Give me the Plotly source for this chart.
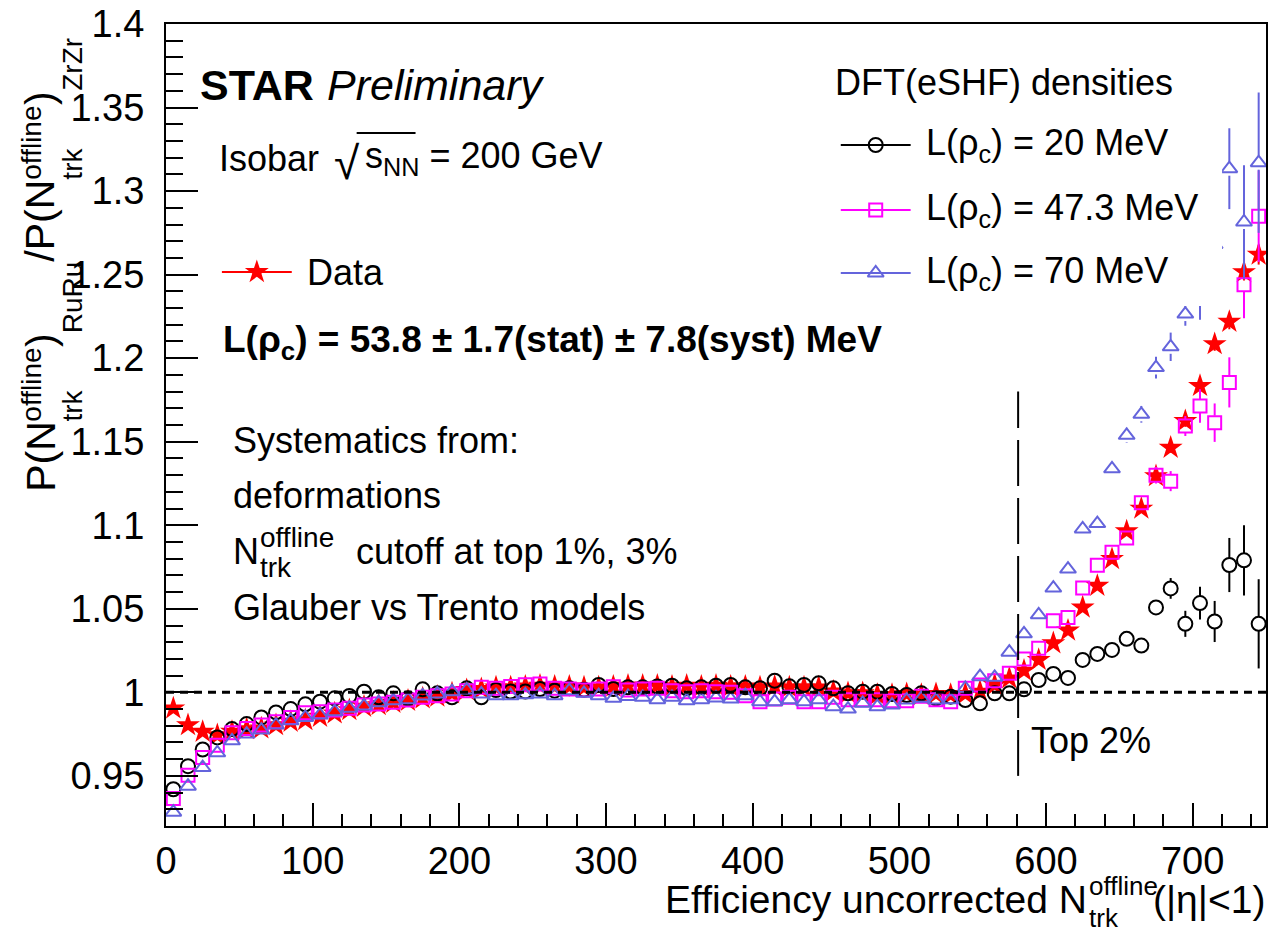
import plotly.graph_objects as go

# ---------------------------------------------------------------- data
n_trk = [5, 15, 25, 35, 45, 55, 65, 75, 85, 95, 105, 115, 125, 135, 145, 155, 165, 175,
         185, 195, 205, 215, 225, 235, 245, 255, 265, 275, 285, 295, 305, 315, 325, 335,
         345, 355, 365, 375, 385, 395, 405, 415, 425, 435, 445, 455, 465, 475, 485, 495,
         505, 515, 525, 535, 545, 555, 565, 575, 585, 595, 605, 615, 625, 635, 645, 655,
         665, 675, 685, 695, 705, 715, 725, 735, 745]

ratio_data = [0.9904, 0.9804, 0.9764, 0.9744, 0.9764, 0.978, 0.9784, 0.9804, 0.9824, 0.9834,
              0.9854, 0.9874, 0.9894, 0.9914, 0.9924, 0.9938, 0.995, 0.9964, 0.9974, 0.9994,
              1.0014, 1.002, 1.003, 1.003, 1.0035, 1.004, 1.0035, 1.0035, 1.003, 1.003,
              1.0035, 1.004, 1.004, 1.004, 1.0035, 1.004, 1.0035, 1.004, 1.0035, 1.0035,
              1.003, 1.0035, 1.003, 1.003, 1.003, 1.0005, 0.9995, 0.9995, 0.9985, 0.9985,
              0.999, 0.9985, 0.999, 0.9985, 0.999, 1.0004, 1.0044, 1.0084, 1.013, 1.0194,
              1.0294, 1.037, 1.0508, 1.0638, 1.0798, 1.0964, 1.110, 1.1294, 1.1464, 1.1624,
              1.1834, 1.2084, 1.2218, 1.2515, 1.262]
err_data = [0.001] * 55 + [0.0015, 0.0015, 0.0015, 0.0015, 0.0015, 0.0015, 0.002, 0.002, 0.002,
                           0.002, 0.002, 0.0025, 0.003, 0.003, 0.0035, 0.004, 0.004, 0.0045,
                           0.005, 0.006]

ratio_L20 = [0.942, 0.9558, 0.9658, 0.973, 0.978, 0.981, 0.985, 0.988, 0.990, 0.9928,
             0.9944, 0.9964, 0.9978, 1.0004, 0.997, 0.9994, 0.9964, 1.0018, 0.9994, 0.997,
             1.0024, 0.997, 1.0014, 1.0005, 1.0005, 1.002, 1.001, 1.0025, 1.0015, 1.0044,
             1.002, 1.003, 1.003, 1.0035, 1.004, 1.0024, 1.003, 1.004, 1.0044, 1.003,
             1.0024, 1.007, 1.0036, 1.0044, 1.0054, 1.0024, 0.9994, 1.0004, 1.0004, 0.999,
             0.9984, 0.9994, 0.9964, 0.9974, 0.9954, 0.9934, 0.9994, 0.9994, 1.0018, 1.0074,
             1.011, 1.0086, 1.0194, 1.023, 1.0254, 1.032, 1.028, 1.0508, 1.0622, 1.041,
             1.0534, 1.0424, 1.0762, 1.079, 1.041]
err_L20 = [0.001] * 58 + [0.0015, 0.0015, 0.0015, 0.002, 0.002, 0.002, 0.0025, 0.003, 0.003,
                          0.004, 0.0062, 0.0078, 0.0098, 0.0123, 0.0162, 0.021, 0.0267]

ratio_L47 = [0.9364, 0.9504, 0.961, 0.9684, 0.9758, 0.9784, 0.9804, 0.9824, 0.985, 0.9878,
             0.9884, 0.9894, 0.9904, 0.9924, 0.993, 0.994, 0.9954, 0.997, 0.998, 0.999,
             1.001, 1.003, 1.0025, 1.0035, 1.0045, 1.005, 1.0024, 1.002, 1.0014, 1.002,
             1.0034, 1.0014, 1.002, 1.0024, 1.001, 1.0004, 1.001, 1.0004, 1.0, 0.998,
             0.9944, 0.996, 0.997, 0.9944, 0.9944, 0.997, 0.9956, 0.9956, 0.9956, 0.995,
             0.995, 0.9976, 0.9956, 0.9944, 1.0024, 1.0044, 1.007, 1.0114, 1.020, 1.0264,
             1.0428, 1.0448, 1.0624, 1.076, 1.0838, 1.0924, 1.1134, 1.130, 1.1264, 1.1594,
             1.1714, 1.1614, 1.1855, 1.2439, 1.285]
err_L47 = [0.001] * 58 + [0.0015, 0.0015, 0.002, 0.002, 0.002, 0.0025, 0.003, 0.004, 0.004,
                          0.005, 0.006, 0.006, 0.010, 0.0115, 0.015, 0.020, 0.0274, 0.038]

ratio_L70 = [0.9283, 0.9438, 0.955, 0.9638, 0.971, 0.975, 0.9774, 0.9804, 0.983, 0.985,
             0.9864, 0.9884, 0.9904, 0.9918, 0.9938, 0.995, 0.9956, 0.9978, 0.999, 1.0004,
             1.0014, 0.999, 0.998, 0.998, 0.9985, 0.999, 0.998, 1.001, 0.9994, 0.998,
             0.9964, 0.9975, 0.997, 0.9956, 0.997, 0.995, 0.9956, 0.9966, 0.996, 0.998,
             0.9944, 0.9944, 0.9956, 0.9944, 0.9956, 0.9914, 0.990, 0.9934, 0.9914, 0.9924,
             0.9954, 0.9964, 0.9954, 0.9956, 1.0024, 1.0094, 1.009, 1.024, 1.035, 1.0464,
             1.0624, 1.0738, 1.0978, 1.101, 1.1338, 1.1538, 1.1664, 1.1944, 1.2068, 1.2264,
             1.245, 1.268, 1.3134, 1.2815, 1.317]
err_L70 = [0.001] * 58 + [0.0015, 0.0015, 0.002, 0.002, 0.002, 0.0025, 0.004, 0.0045, 0.005,
                          0.0065, 0.0085, 0.007, 0.022, 0.030, 0.0242, 0.034, 0.042]

x_ticks = [0, 100, 200, 300, 400, 500, 600, 700]
y_ticks = [0.95, 1.0, 1.05, 1.1, 1.15, 1.2, 1.25, 1.3, 1.35, 1.4]
y_tick_text = ["0.95", "1", "1.05", "1.1", "1.15", "1.2", "1.25", "1.3", "1.35", "1.4"]

X_RANGE = [0, 750]
Y_RANGE = [0.92, 1.4]
TOP_CUT = 581          # top 2% boundary in N_trk
TOP_CUT_SPAN = [0.95, 1.18]

# ---------------------------------------------------------------- layout helpers
W, H = 1271, 934
L, R, T, B = 166, 1268, 24, 826          # plot frame in page pixels
FONT = "Liberation Sans, Arial, Helvetica, sans-serif"
BLACK, RED, MAGENTA, VIOLET = "#000000", "#ff0000", "#ff00ff", "#6464dc"

ARIAL_W = {'P': 667, '(': 333, ')': 333, 'N': 722, '/': 278, 'o': 556, 'f': 278, 'l': 222,
           'i': 222, 'n': 556, 'e': 556, 't': 278, 'r': 333, 'k': 500, 'R': 722, 'u': 556,
           'Z': 611, ' ': 278}


def text_width(s, size):
    return sum(ARIAL_W[c] for c in s) * size / 1000.0


def pxx(x):
    return (x - L) / (R - L)


def pxy(y):
    return (B - y) / (B - T)


annotations = []


def label(text, x, y, size=36, xanchor="left", yanchor="middle", angle=0, color="black"):
    annotations.append(dict(text=text, x=pxx(x), y=pxy(y), xref="paper", yref="paper",
                            showarrow=False, xanchor=xanchor, yanchor=yanchor,
                            textangle=angle, borderpad=0,
                            font=dict(family=FONT, size=size, color=color)))


# ---------------------------------------------------------------- traces
fig = go.Figure()

# gap left open inside the hollow markers for the error bars
px_per_unit = (B - T) / (Y_RANGE[1] - Y_RANGE[0])
GAP = 7.0 / px_per_unit


def bar_segments(xs, ys, es):
    sx, sy = [], []
    for x, y, e in zip(xs, ys, es):
        if e > GAP:
            sx += [x, x, None, x, x, None]
            sy += [y - e, y - GAP, None, y + GAP, y + e, None]
    return sx, sy


fig.add_trace(go.Scatter(
    x=n_trk, y=ratio_data, mode="markers", name="Data",
    error_y=dict(type="data", array=err_data, color=RED, thickness=2, width=0),
    marker=dict(symbol="star", size=18, color=RED, line=dict(width=0))))

for ys, es, color, symbol, size, name in [
        (ratio_L20, err_L20, BLACK, "circle-open", 14, "L20"),
        (ratio_L47, err_L47, MAGENTA, "square-open", 13, "L47"),
        (ratio_L70, err_L70, VIOLET, "triangle-up-open", 14, "L70")]:
    bx, by = bar_segments(n_trk, ys, es)
    fig.add_trace(go.Scatter(x=bx, y=by, mode="lines", line=dict(color=color, width=2),
                             hoverinfo="skip", name=name + " err"))
    fig.add_trace(go.Scatter(x=n_trk, y=ys, mode="markers", name=name,
                             marker=dict(symbol=symbol, size=size, color=color,
                                         line=dict(width=2, color=color))))

# legend box and legend glyphs, drawn on a pixel-space overlay
LEG_BOX = dict(x0=826, x1=1224, y0=48, y1=306)
fig.add_trace(go.Scatter(
    x=[LEG_BOX["x0"], LEG_BOX["x1"], LEG_BOX["x1"], LEG_BOX["x0"], LEG_BOX["x0"]],
    y=[LEG_BOX["y0"], LEG_BOX["y0"], LEG_BOX["y1"], LEG_BOX["y1"], LEG_BOX["y0"]],
    xaxis="x2", yaxis="y2", mode="lines", fill="toself", fillcolor="white",
    line=dict(width=0, color="white"), hoverinfo="skip"))

legend_rows = [  # (line x0, line x1, y, color, symbol, size)
    (222, 292, 272, RED, "star", 18),
    (842, 912, 145, BLACK, "circle-open", 14),
    (842, 912, 210, MAGENTA, "square-open", 13),
    (842, 912, 273, VIOLET, "triangle-up-open", 14),
]
for x0, x1, y, color, symbol, size in legend_rows:
    fig.add_trace(go.Scatter(x=[x0, x1], y=[y, y], xaxis="x2", yaxis="y2", mode="lines",
                             line=dict(color=color, width=2), hoverinfo="skip"))
    fig.add_trace(go.Scatter(x=[(x0 + x1) / 2], y=[y], xaxis="x2", yaxis="y2", mode="markers",
                             marker=dict(symbol=symbol, size=size, color=color,
                                         line=dict(width=2 if "open" in symbol else 0,
                                                   color=color)),
                             hoverinfo="skip"))

# ---------------------------------------------------------------- text
label("<b>STAR</b>", 199, 85, size=43)
label("<i>Preliminary</i>", 326, 85, size=43)

label("Isobar", 218, 158, size=36)
label("√", 333, 163, size=46)
label("s<sub>NN</sub> = 200 GeV", 364, 158, size=36)

label("Data", 306, 272, size=36)
label("<b>L(ρ<sub>c</sub>) = 53.8 ± 1.7(stat) ± 7.8(syst) MeV</b>", 222, 342, size=37)

label("Systematics from:", 232, 440, size=36)
label("deformations", 232, 495, size=36)
label("N", 232, 551, size=36)
label("offline", 259, 537, size=28)
label("trk", 259, 567, size=28)
label("cutoff at top 1%, 3%", 355, 551, size=36)
label("Glauber vs Trento models", 232, 607, size=36)

label("DFT(eSHF) densities", 835, 82, size=36)
label("L(ρ<sub>c</sub>) = 20 MeV", 926, 145, size=36)
label("L(ρ<sub>c</sub>) = 47.3 MeV", 926, 210, size=36)
label("L(ρ<sub>c</sub>) = 70 MeV", 926, 273, size=36)

label("Top 2%", 1032, 740, size=36)

# x-axis title with stacked sub/superscript
label("Efficiency uncorrected N", 1090, 899, size=39, xanchor="right")
label("offline", 1090, 886, size=26)
label("trk", 1090, 918, size=26)
label("(|η|<1)", 1268, 899, size=39, xanchor="right")

# y-axis title, rotated, built from the bottom up
MAIN, SUP, SUB = 41, 28, 28
COL = {"main": 40, "sup": 31, "sub": 72}
pieces = [("P(N", "main"), (("offline", "trk"), "stack"), (")", "main"), ("RuRu", "sub"),
          ("/P(N", "main"), (("offline", "trk"), "stack"), (")", "main"), ("ZrZr", "sub")]
ypos = 493
for txt, role in pieces:
    if role == "stack":
        sup, sub = txt
        label(sup, COL["sup"], ypos, size=SUP, xanchor="center", yanchor="bottom", angle=-90)
        label(sub, COL["sub"], ypos, size=SUB, xanchor="center", yanchor="bottom", angle=-90)
        ypos -= max(text_width(sup, SUP), text_width(sub, SUB))
    else:
        size = MAIN if role == "main" else SUB
        label(txt, COL[role], ypos, size=size, xanchor="center", yanchor="bottom", angle=-90)
        ypos -= text_width(txt, size)

# ---------------------------------------------------------------- reference lines
shapes = [
    dict(type="line", xref="x", yref="y", x0=X_RANGE[0], x1=X_RANGE[1], y0=1.0, y1=1.0,
         line=dict(color="black", width=3, dash="8px,6px"), layer="above"),
    dict(type="line", xref="x", yref="y", x0=TOP_CUT, x1=TOP_CUT,
         y0=TOP_CUT_SPAN[0], y1=TOP_CUT_SPAN[1],
         line=dict(color="black", width=2, dash="46px,12px"), layer="above"),
    # overbar of the square root
    dict(type="line", xref="paper", yref="paper", x0=pxx(357), x1=pxx(416),
         y0=pxy(133), y1=pxy(133), line=dict(color="black", width=2)),
]

fig.update_layout(
    width=W, height=H, autosize=False,
    margin=dict(l=L, r=W - R, t=T, b=H - B, pad=0),
    paper_bgcolor="white", plot_bgcolor="white",
    showlegend=False,
    font=dict(family=FONT, color="black"),
    annotations=annotations, shapes=shapes,
    xaxis=dict(range=X_RANGE, tickvals=x_ticks, ticks="inside", ticklen=23, tickwidth=2,
               tickcolor="black", showline=True, linecolor="black", linewidth=2, mirror=True,
               showgrid=False, zeroline=False, tickfont=dict(size=38),
               minor=dict(dtick=20, tick0=0, ticks="inside", ticklen=12, tickwidth=2,
                          tickcolor="black", showgrid=False)),
    yaxis=dict(range=Y_RANGE, tickvals=y_ticks, ticktext=y_tick_text, ticks="inside",
               ticklen=32, tickwidth=2, tickcolor="black", showline=True, linecolor="black",
               linewidth=2, mirror=True, showgrid=False, zeroline=False,
               tickfont=dict(size=38), ticklabelstandoff=12,
               minor=dict(dtick=0.01, tick0=0.92, ticks="inside", ticklen=17, tickwidth=2,
                          tickcolor="black", showgrid=False)),
    xaxis2=dict(overlaying="x", anchor="y2", range=[L, R], visible=False),
    yaxis2=dict(overlaying="y", anchor="x2", range=[B, T], visible=False),
)

fig.write_html("out.html")
